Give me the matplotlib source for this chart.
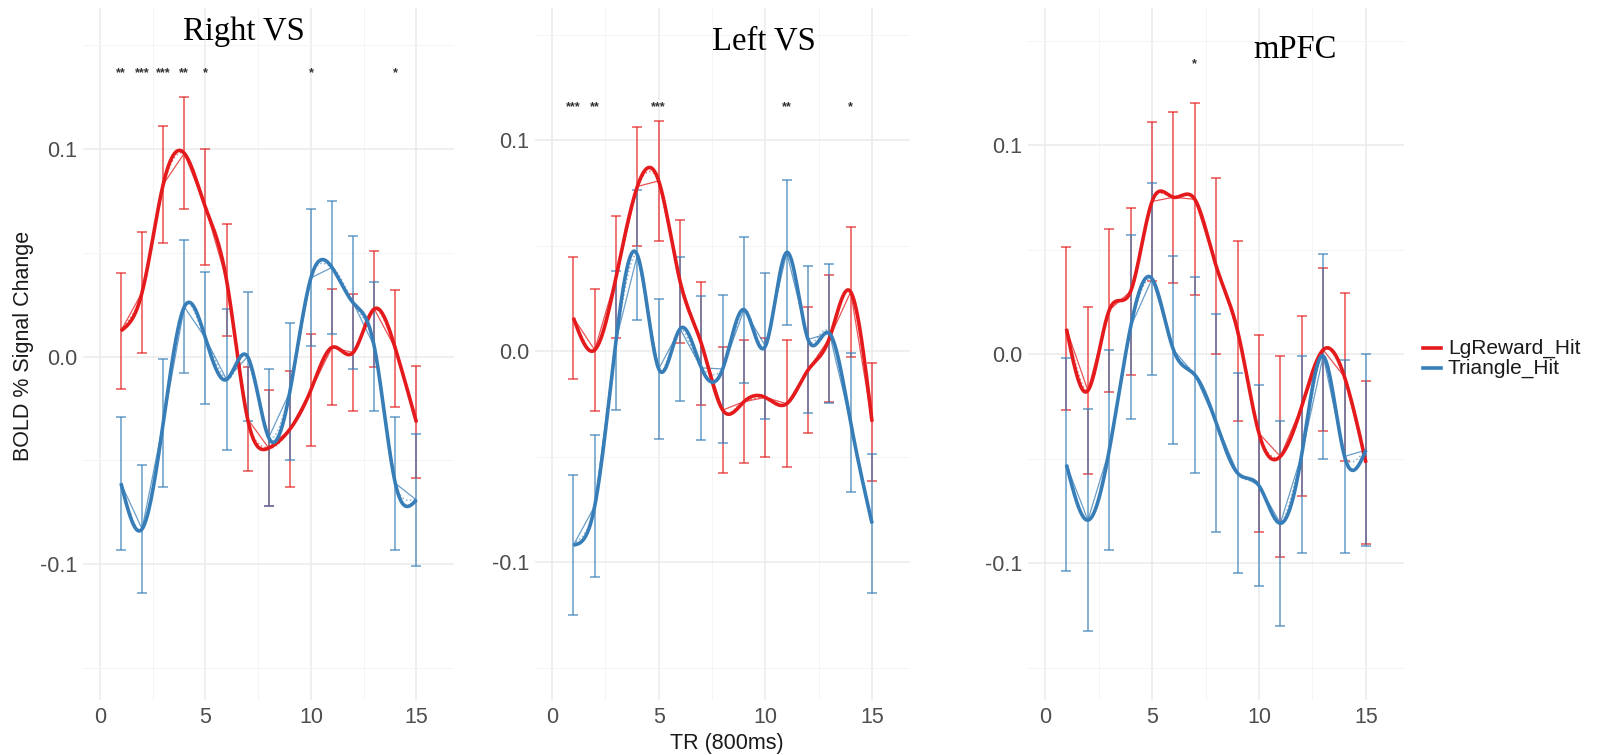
import numpy as np
import matplotlib
matplotlib.use('Agg')
import matplotlib.pyplot as plt
from matplotlib.lines import Line2D

# ---------------- data ----------------
tr = list(range(1, 16))
conditions = ['LgReward_Hit', 'Triangle_Hit']
regions = ['Right VS', 'Left VS', 'mPFC']

rvs_reward_mean = [0.0125, 0.031, 0.083, 0.098, 0.072, 0.037, -0.030, -0.044, -0.035, -0.016, 0.0045, 0.002, 0.023, 0.004, -0.0316]
rvs_reward_se = [0.028, 0.029, 0.028, 0.027, 0.028, 0.027, 0.025, 0.028, 0.028, 0.027, 0.028, 0.028, 0.028, 0.028, 0.027]
rvs_triangle_mean = [-0.061, -0.083, -0.032, 0.024, 0.009, -0.011, 0.0, -0.039, -0.017, 0.038, 0.043, 0.026, 0.005, -0.061, -0.069]
rvs_triangle_se = [0.032, 0.031, 0.031, 0.032, 0.032, 0.034, 0.031, 0.033, 0.033, 0.033, 0.032, 0.032, 0.031, 0.032, 0.032]

lvs_reward_mean = [0.0157, 0.0005, 0.035, 0.078, 0.0806, 0.033, 0.0035, -0.028, -0.024, -0.022, -0.025, -0.009, 0.006, 0.028, -0.0335]
lvs_reward_se = [0.029, 0.029, 0.029, 0.028, 0.0285, 0.029, 0.029, 0.030, 0.029, 0.028, 0.030, 0.030, 0.030, 0.031, 0.028]
lvs_triangle_mean = [-0.092, -0.0735, 0.005, 0.0455, -0.0085, 0.0105, -0.008, -0.0085, 0.0196, 0.0023, 0.0467, 0.0055, 0.0084, -0.034, -0.0817]
lvs_triangle_se = [0.033, 0.0335, 0.033, 0.031, 0.033, 0.034, 0.034, 0.035, 0.0346, 0.0346, 0.0345, 0.035, 0.033, 0.033, 0.033]

mpfc_reward_mean = [0.012, -0.0175, 0.021, 0.030, 0.073, 0.075, 0.074, 0.042, 0.011, -0.038, -0.049, -0.025, 0.002, -0.011, -0.052]
mpfc_reward_se = [0.039, 0.040, 0.039, 0.040, 0.038, 0.041, 0.046, 0.042, 0.043, 0.047, 0.048, 0.043, 0.039, 0.040, 0.039]
mpfc_triangle_mean = [-0.053, -0.0795, -0.046, 0.013, 0.036, 0.002, -0.010, -0.033, -0.057, -0.063, -0.081, -0.048, -0.001, -0.049, -0.046]
mpfc_triangle_se = [0.051, 0.053, 0.048, 0.044, 0.046, 0.045, 0.047, 0.052, 0.048, 0.048, 0.049, 0.047, 0.049, 0.046, 0.046]

rvs_sig_tr = [1, 2, 3, 4, 5, 10, 14]
rvs_sig_labels = ['**', '***', '***', '**', '*', '*', '*']
lvs_sig_tr = [1, 2, 5, 11, 14]
lvs_sig_labels = ['***', '**', '***', '**', '*']
mpfc_sig_tr = [7]
mpfc_sig_labels = ['*']
sig_level = [0.1368, 0.1155, 0.1388]

x_ticks = [0, 5, 10, 15]
y_ticks = [-0.1, 0.0, 0.1]
y_tick_labels = ['-0.1', '0.0', '0.1']

# ---------------- helpers ----------------
def natural_spline(x, y, n=600):
    x = np.asarray(x, float); y = np.asarray(y, float)
    m = len(x)
    h = np.diff(x)
    A = np.zeros((m, m)); b = np.zeros(m)
    A[0, 0] = A[-1, -1] = 1.0
    for i in range(1, m - 1):
        A[i, i - 1] = h[i - 1]; A[i, i] = 2 * (h[i - 1] + h[i]); A[i, i + 1] = h[i]
        b[i] = 3 * ((y[i + 1] - y[i]) / h[i] - (y[i] - y[i - 1]) / h[i - 1])
    c = np.linalg.solve(A, b)
    xs = np.linspace(x[0], x[-1], n)
    idx = np.clip(np.searchsorted(x, xs) - 1, 0, m - 2)
    dx = xs - x[idx]
    bc = (y[idx + 1] - y[idx]) / h[idx] - h[idx] * (2 * c[idx] + c[idx + 1]) / 3
    d = (c[idx + 1] - c[idx]) / (3 * h[idx])
    return xs, y[idx] + bc * dx + c[idx] * dx ** 2 + d * dx ** 3

def catmull_rom(x, y, n=40):
    x = np.asarray(x, float); y = np.asarray(y, float)
    px = np.concatenate([[x[0]], x, [x[-1]]]); py = np.concatenate([[y[0]], y, [y[-1]]])
    xs, ys = [], []
    t = np.linspace(0, 1, n)
    for i in range(1, len(px) - 2):
        for arr, out in ((px, xs), (py, ys)):
            p0, p1, p2, p3 = arr[i - 1], arr[i], arr[i + 1], arr[i + 2]
            out.extend(0.5 * ((2 * p1) + (-p0 + p2) * t + (2 * p0 - 5 * p1 + 4 * p2 - p3) * t ** 2
                               + (-p0 + 3 * p1 - 3 * p2 + p3) * t ** 3))
    return np.array(xs), np.array(ys)

# ---------------- figure ----------------
W, H = 1600, 755
fig = plt.figure(figsize=(W / 100, H / 100), dpi=100)
plt.rcParams['font.family'] = ['Liberation Sans', 'DejaVu Sans']

RED = '#E41A1C'
BLUE = '#377EB8'
TICK_C = '#4D4D4D'

# pixel boxes (left, right, top, bottom), y zero pixel, px per unit
boxes = [(83, 454, 8, 700, 356.7, 2076.0),
         (535, 910, 8, 700, 351.0, 2110.0),
         (1028, 1404, 8, 700, 354.0, 2090.0)]

panel_data = [
    (rvs_reward_mean, rvs_reward_se, rvs_triangle_mean, rvs_triangle_se, rvs_sig_tr, rvs_sig_labels),
    (lvs_reward_mean, lvs_reward_se, lvs_triangle_mean, lvs_triangle_se, lvs_sig_tr, lvs_sig_labels),
    (mpfc_reward_mean, mpfc_reward_se, mpfc_triangle_mean, mpfc_triangle_se, mpfc_sig_tr, mpfc_sig_labels),
]

title_pos = [(244, 40), (764, 50), (1295, 58)]

for k, ((l, r, t, b, y0, sc), pdat) in enumerate(zip(boxes, panel_data)):
    ax = fig.add_axes([l / W, 1 - b / H, (r - l) / W, (b - t) / H])
    rm, rs, bm, bs, sig_x, sig_l = pdat
    for mean, se, col in ((rm, rs, RED), (bm, bs, BLUE)):
        ax.errorbar(tr, mean, yerr=se, fmt='none', ecolor=col, alpha=0.65,
                    elinewidth=1.3, capsize=3.3, capthick=1.3, zorder=2)
    for mean, col in ((rm, RED), (bm, BLUE)):
        ax.plot(tr, mean, color=col, lw=0.9, alpha=0.75, zorder=3)
        cx, cy = catmull_rom(tr, mean)
        ax.plot(cx, cy, color=col, lw=1.1, alpha=0.6, linestyle=(0, (1, 1.6)), zorder=3)
        sx, sy = natural_spline(tr, mean)
        ax.plot(sx, sy, color=col, lw=2.6, zorder=4, solid_capstyle='butt')
    for xs_, lab in zip(sig_x, sig_l):
        ax.text(xs_, sig_level[k], lab, ha='center', va='center', fontsize=9,
                fontweight='bold', color='#333333', zorder=5)

    ax.set_xlim(-0.8, 16.78)
    ax.set_ylim((y0 - b) / sc, (y0 - t) / sc)
    ax.set_xticks(x_ticks)
    ax.set_xticks([2.5, 7.5, 12.5], minor=True)
    ax.set_yticks(y_ticks)
    ax.set_yticklabels(y_tick_labels)
    ax.set_yticks([-0.15, -0.05, 0.05, 0.15], minor=True)
    ax.grid(which='major', color='#EBEBEB', lw=1.1)
    ax.grid(which='minor', color='#F4F4F4', lw=0.7)
    ax.set_axisbelow(True)
    for s in ax.spines.values():
        s.set_visible(False)
    ax.tick_params(which='both', length=0)
    ax.tick_params(axis='x', pad=5, labelsize=15.5, labelcolor=TICK_C)
    ax.tick_params(axis='y', pad=4, labelsize=15.5, labelcolor=TICK_C)

    tx, ty = title_pos[k]
    fig.text(tx / W, 1 - ty / H, regions[k], ha='center', va='baseline',
             fontsize=23.5, family=['Liberation Serif', 'DejaVu Serif'], color='black')

fig.text(24 / W, 1 - 346 / H, 'BOLD % Signal Change', rotation=90, ha='center', va='center',
         fontsize=15.5, color='#1A1A1A')
fig.text(727 / W, 1 - 743 / H, 'TR (800ms)', ha='center', va='center',
         fontsize=15.5, color='#1A1A1A')

# legend
for i, (lab, col) in enumerate(zip(conditions, (RED, BLUE))):
    yy = 1 - (348 + 20 * i) / H
    fig.add_artist(Line2D([1423 / W, 1441 / W], [yy, yy], color=col, lw=2.6))
    fig.text(1448 / W, yy, lab, ha='left', va='center', fontsize=15, color='#1A1A1A')

fig.savefig('out.png', dpi=100, facecolor='white')
